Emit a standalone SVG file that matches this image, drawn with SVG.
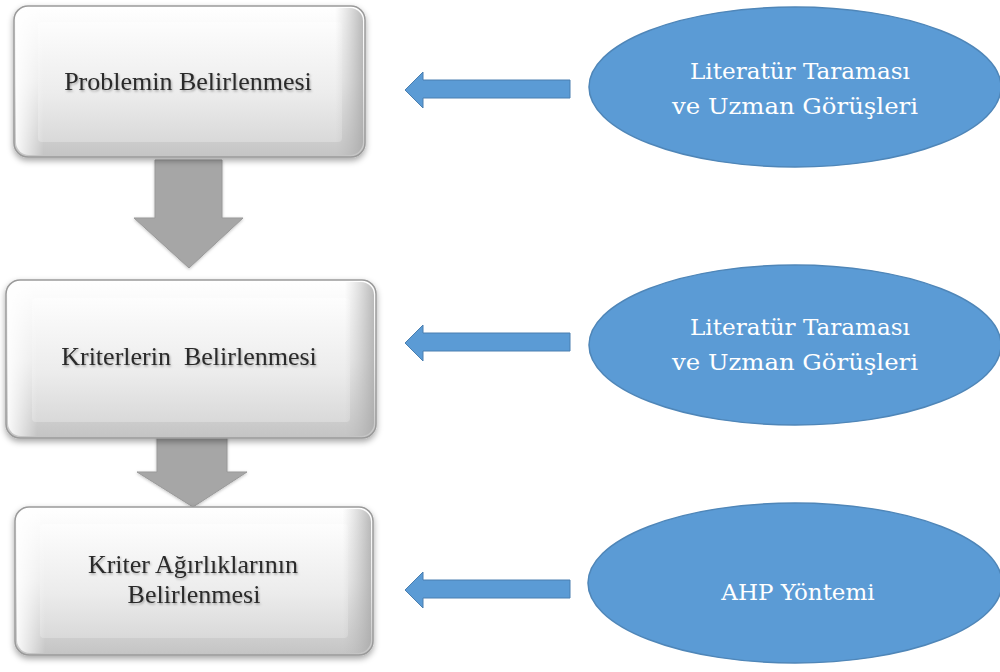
<svg xmlns="http://www.w3.org/2000/svg" width="1000" height="672" viewBox="0 0 1000 672">
<defs>
  <linearGradient id="gOuter" x1="0" y1="0" x2="0" y2="1">
    <stop offset="0" stop-color="#ffffff"/>
    <stop offset="0.5" stop-color="#ececec"/>
    <stop offset="1" stop-color="#c4c4c4"/>
  </linearGradient>
  <linearGradient id="gInner" x1="0" y1="0" x2="0" y2="1">
    <stop offset="0" stop-color="#fdfdfd"/>
    <stop offset="0.6" stop-color="#ececec"/>
    <stop offset="1" stop-color="#d9d9d9"/>
  </linearGradient>
  <linearGradient id="gSide" x1="0" y1="0" x2="1" y2="0">
    <stop offset="0" stop-color="#ffffff" stop-opacity="0.9"/>
    <stop offset="0.08" stop-color="#ffffff" stop-opacity="0"/>
    <stop offset="0.92" stop-color="#bdbdbd" stop-opacity="0"/>
    <stop offset="1" stop-color="#a8a8a8" stop-opacity="0.8"/>
  </linearGradient>
  <filter id="shadow" x="-10%" y="-10%" width="120%" height="130%">
    <feDropShadow dx="0" dy="3" stdDeviation="3" flood-color="#000" flood-opacity="0.35"/>
  </filter>
  <filter id="tshadow" x="-5%" y="-20%" width="110%" height="150%">
    <feDropShadow dx="1" dy="1.5" stdDeviation="1" flood-color="#000" flood-opacity="0.3"/>
  </filter>
  <filter id="ashadow" x="-20%" y="-20%" width="140%" height="140%">
    <feDropShadow dx="0" dy="1" stdDeviation="1.5" flood-color="#000" flood-opacity="0.25"/>
  </filter>
</defs>
<style>
  .outer { fill: url(#gOuter); stroke: #9a9a9a; stroke-width: 1.5; filter: url(#shadow); }
  .inner { fill: url(#gInner); stroke: none; }
  .side { fill: url(#gSide); stroke: none; }
  .btxt { font-family: "Liberation Serif", "Times New Roman", serif; font-size: 26px; fill: #2b2b2b; text-anchor: middle; filter: url(#tshadow); }
  .ell { fill: #5b9bd5; stroke: #4f86b8; stroke-width: 1.5; }
  .etxt { font-family: "DejaVu Serif", "Liberation Serif", serif; font-size: 23px; fill: #ffffff; text-anchor: middle; }
  .down { fill: #a6a6a6; stroke: #999999; stroke-width: 1; filter: url(#ashadow); }
  .left { fill: #5b9bd5; stroke: #4a7fb0; stroke-width: 1; }
</style>

<g id="connectors">
  <polygon class="down" points="155,160 222,160 222,218 243,218 189,268 134,218 155,218"/>
  <polygon class="down" points="157,432 227,432 227,472 247,472 193,507 137,472 157,472"/>
  <polygon class="left" points="405,90 423,72 423,80 570,80 570,98 423,98 423,108"/>
  <polygon class="left" points="405,343 423,325 423,333 570,333 570,351 423,351 423,361"/>
  <polygon class="left" points="405,590 423,572 423,580 570,580 570,598 423,598 423,608"/>
</g>

<g id="box1">
  <rect class="outer" x="14" y="6" width="351" height="151" rx="14"/>
  <rect class="inner" x="38" y="22" width="304" height="120" rx="4"/>
  <rect class="side" x="16" y="8" width="347" height="147" rx="13"/>
  <text class="btxt" x="188" y="90">Problemin Belirlenmesi</text>
</g>

<g id="box2">
  <rect class="outer" x="6" y="280" width="370" height="158" rx="14"/>
  <rect class="inner" x="32" y="298" width="318" height="124" rx="4"/>
  <rect class="side" x="8" y="282" width="366" height="154" rx="13"/>
  <text class="btxt" x="189" y="365" xml:space="preserve">Kriterlerin  Belirlenmesi</text>
</g>

<g id="box3">
  <rect class="outer" x="15" y="507" width="358" height="148" rx="14"/>
  <rect class="inner" x="40" y="524" width="308" height="114" rx="4"/>
  <rect class="side" x="17" y="509" width="354" height="144" rx="13"/>
  <text class="btxt" x="193" y="573">Kriter Ağırlıklarının</text>
  <text class="btxt" x="194" y="603">Belirlenmesi</text>
</g>

<g id="ellipse1">
  <ellipse class="ell" cx="795" cy="87" rx="206" ry="80"/>
  <text class="etxt" x="800" y="79" textLength="220" lengthAdjust="spacingAndGlyphs">Literatür Taraması</text>
  <text class="etxt" x="795" y="114" textLength="246" lengthAdjust="spacingAndGlyphs">ve Uzman Görüşleri</text>
</g>

<g id="ellipse2">
  <ellipse class="ell" cx="795" cy="345" rx="206" ry="80"/>
  <text class="etxt" x="800" y="335" textLength="220" lengthAdjust="spacingAndGlyphs">Literatür Taraması</text>
  <text class="etxt" x="795" y="370" textLength="246" lengthAdjust="spacingAndGlyphs">ve Uzman Görüşleri</text>
</g>

<g id="ellipse3">
  <ellipse class="ell" cx="795" cy="583" rx="207" ry="80"/>
  <text class="etxt" x="798" y="600">AHP Yöntemi</text>
</g>
</svg>
